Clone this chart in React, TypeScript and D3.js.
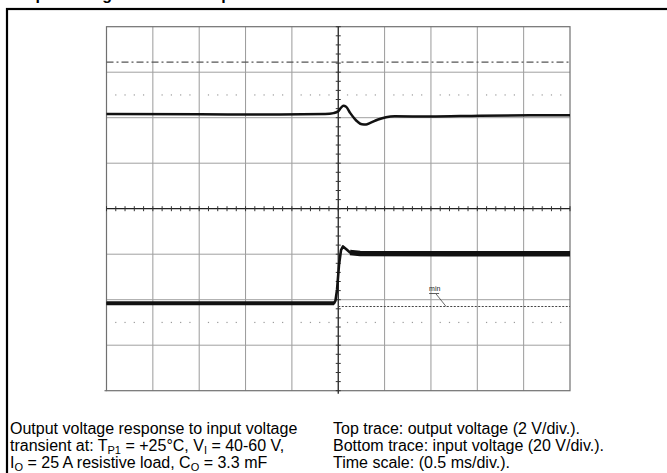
import React from "react";
import * as d3 from "d3";

// ---- data ----
// time axis: 0.5 ms/div, 10 divisions, step at 0
const timeTicks = [-2.5, -2, -1.5, -1, -0.5, 0, 0.5, 1, 1.5, 2, 2.5];
// vertical axis: 8 divisions
const divTicks = [-4, -3, -2, -1, 0, 1, 2, 3, 4];

// top trace: output voltage (2 V/div), position in divisions
const topTraceTime = [-2.5, -1.49, -0.63, -0.14, -0.05, 0.0, 0.03, 0.055, 0.085, 0.13, 0.18, 0.21, 0.255, 0.3, 0.34, 0.43, 0.515, 0.61, 0.99, 1.53, 2.07, 2.5];
const topTraceDiv = [2.08, 2.075, 2.07, 2.08, 2.1, 2.14, 2.22, 2.26, 2.24, 2.1, 1.97, 1.91, 1.855, 1.85, 1.88, 1.96, 2.01, 2.03, 2.025, 2.045, 2.055, 2.055];

// bottom trace: input voltage (20 V/div), position in divisions
const bottomTraceTime = [-2.5, -1.2, -0.046, -0.03, -0.013, 0.008, 0.03, 0.051, 0.084, 0.127, 0.235, 1.2, 2.5];
const bottomTraceDiv = [-2.08, -2.08, -2.08, -2.02, -1.78, -1.24, -0.91, -0.83, -0.886, -0.963, -0.985, -0.99, -0.99];

// reference / cursor lines (divisions)
const dashDotLevel = 3.22;
const dottedRows = [2.5, -2.5];
const minLevel = -2.15;

const titleText = "Output voltage transient response";
const captionLeft = [
  [{ t: "Output voltage response to input voltage" }],
  [{ t: "transient at: T" }, { t: "P1", sub: true }, { t: " = +25°C, V" }, { t: "I", sub: true }, { t: " = 40-60 V," }],
  [{ t: "I" }, { t: "O", sub: true }, { t: " = 25 A resistive load, C" }, { t: "O", sub: true }, { t: " = 3.3 mF" }],
];
const captionRight = [
  "Top trace: output voltage (2 V/div.).",
  "Bottom trace: input voltage (20 V/div.).",
  "Time scale: (0.5 ms/div.).",
];

export default function App() {
  const W = 667, H = 473;
  const left = 106.5, right = 570, top = 26.7, bottom = 390.7;
  const x = d3.scaleLinear().domain([-2.5, 2.5]).range([left, right]);
  const y = d3.scaleLinear().domain([-4, 4]).range([bottom, top]);

  const topData = topTraceTime.map((t, i) => [t, topTraceDiv[i]] as [number, number]);
  const botData = bottomTraceTime.map((t, i) => [t, bottomTraceDiv[i]] as [number, number]);
  const line = d3.line<[number, number]>().x(d => x(d[0])).y(d => y(d[1])).curve(d3.curveMonotoneX);
  const lineL = d3.line<[number, number]>().x(d => x(d[0])).y(d => y(d[1]));

  const minorX = d3.range(-2.5, 2.5001, 0.1).filter(v => Math.abs(v * 2 - Math.round(v * 2)) > 0.01);
  const minorXAll = d3.range(-2.5, 2.5001, 0.1);
  const minorY = d3.range(-4, 4.0001, 0.2);

  const font = "'Liberation Sans', Arial, sans-serif";

  return (
    <svg width={W} height={H} style={{ position: "absolute", left: 0, top: 0, background: "#fff" }}>
      <rect x={0} y={0} width={W} height={H} fill="#fff" />
      {/* clipped title */}
      <text x={8} y={0} fontFamily={font} fontWeight="bold" fontSize={16} fill="#000">{titleText}</text>
      {/* outer frame */}
      <rect x={7} y={9} width={700} height={500} fill="none" stroke="#000" strokeWidth={2.2} />

      {/* grid */}
      {timeTicks.slice(1, -1).filter(t => t !== 0).map(t => (
        <line key={"vx" + t} x1={x(t)} x2={x(t)} y1={top} y2={bottom} stroke="#9a9a9a" strokeWidth={1} />
      ))}
      {divTicks.slice(1, -1).filter(d => d !== 0).map(d => (
        <line key={"hy" + d} x1={left} x2={right} y1={y(d)} y2={y(d)} stroke="#a0a0a0" strokeWidth={1} />
      ))}
      {/* dotted rows */}
      {dottedRows.map(r => minorX.map(t => (
        <rect key={"dr" + r + "_" + t} x={x(t) - 0.6} y={y(r) - 0.6} width={1.2} height={1.2} fill="#9a9a9a" />
      )))}
      {/* plot border */}
      <rect x={left} y={top} width={right - left} height={bottom - top} fill="none" stroke="#707070" strokeWidth={1.2} />
      <line x1={left - 2} x2={left} y1={bottom} y2={bottom} stroke="#707070" strokeWidth={1.2} />

      {/* center axes with ticks */}
      <line x1={left} x2={right} y1={y(0)} y2={y(0)} stroke="#222" strokeWidth={1.3} />
      <line x1={x(0)} x2={x(0)} y1={top} y2={bottom + 3} stroke="#222" strokeWidth={1.3} />
      {minorXAll.map(t => (
        <line key={"tx" + t} x1={x(t)} x2={x(t)} y1={y(0) - 2.5} y2={y(0) + 2.5} stroke="#333" strokeWidth={1} />
      ))}
      {minorY.map(d => (
        <line key={"ty" + d} x1={x(0) - 2.5} x2={x(0) + 2.5} y1={y(d)} y2={y(d)} stroke="#333" strokeWidth={1} />
      ))}

      {/* dash-dot reference line */}
      <line x1={left} x2={right} y1={y(dashDotLevel)} y2={y(dashDotLevel)} stroke="#555" strokeWidth={1.2} strokeDasharray="7,3,2,3" />
      {/* min dotted line */}
      <line x1={x(0)} x2={right} y1={y(minLevel)} y2={y(minLevel)} stroke="#444" strokeWidth={1.1} strokeDasharray="2,1.5" />
      <text x={x(0.98)} y={y(minLevel) - 16} fontFamily={font} fontSize={7} fill="#222">min</text>
      <line x1={x(0.98)} x2={x(0.98) + 10} y1={y(minLevel) - 13} y2={y(minLevel) - 13} stroke="#333" strokeWidth={0.8} />
      <line x1={x(0.98) + 7} x2={x(0.98) + 17} y1={y(minLevel) - 12.5} y2={y(minLevel)} stroke="#444" strokeWidth={0.8} />

      {/* traces */}
      <path d={line(topData) || ""} fill="none" stroke="#111" strokeWidth={2.5} strokeLinejoin="round" />
      <path d={lineL(botData) || ""} fill="none" stroke="#111" strokeWidth={2.6} strokeLinejoin="round" />
      <path d={lineL(botData.filter(d => d[0] <= -0.046)) || ""} fill="none" stroke="#111" strokeWidth={4} />
      <path d={lineL(botData.filter(d => d[0] >= 0.127)) || ""} fill="none" stroke="#111" strokeWidth={5.5} />

      {/* captions */}
      {captionLeft.map((parts, i) => (
        <text key={"cl" + i} x={10} y={433.5 + i * 17.2} fontFamily={font} fontSize={16} fill="#000">
          {parts.map((p, j) => p.sub
            ? <tspan key={j} fontSize={11} dy={3.5}>{p.t}</tspan>
            : <tspan key={j} dy={j > 0 && parts[j - 1].sub ? -3.5 : 0}>{p.t}</tspan>)}
        </text>
      ))}
      {captionRight.map((s, i) => (
        <text key={"cr" + i} x={333} y={433.5 + i * 17.2} fontFamily={font} fontSize={16} fill="#000">{s}</text>
      ))}
    </svg>
  );
}
